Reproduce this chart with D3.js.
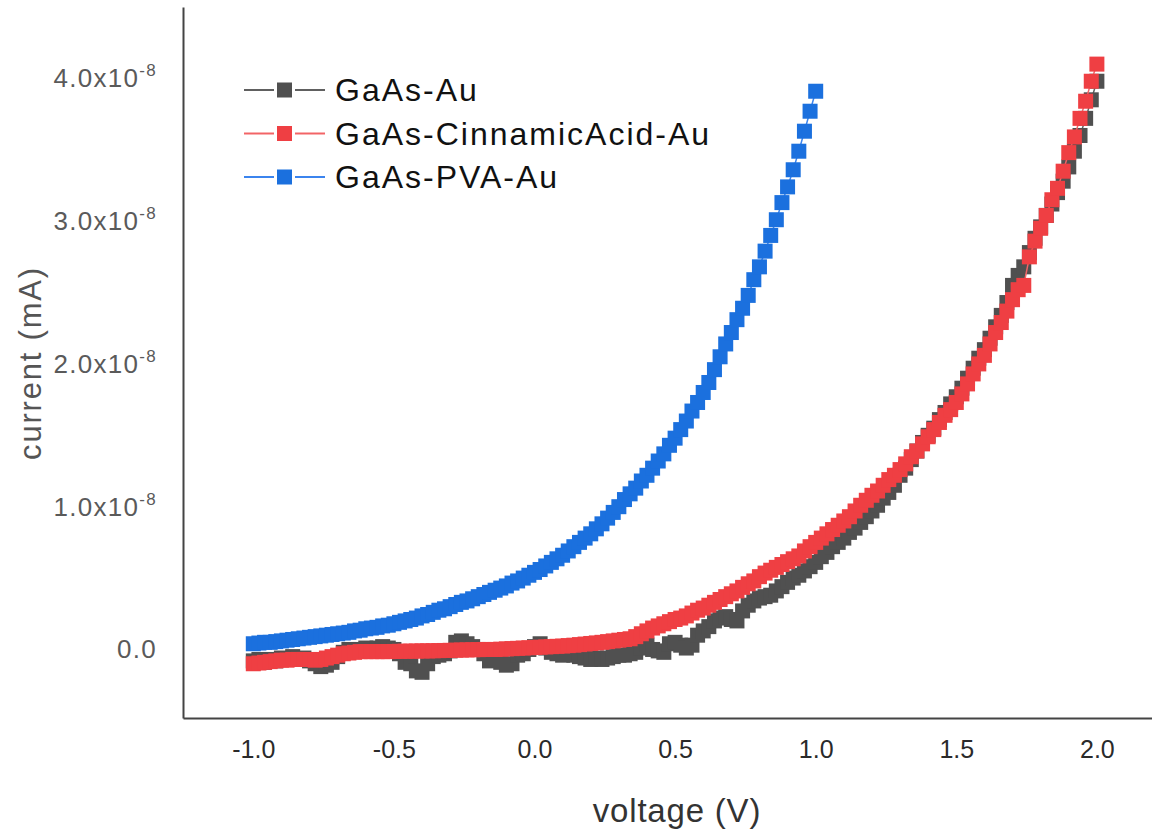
<!DOCTYPE html>
<html>
<head>
<meta charset="utf-8">
<script src="https://cdn.jsdelivr.net/npm/d3@7"></script>
<style>
  body { margin: 0; background: #fff; }
  svg { display: block; font-family: "Liberation Sans", Arial, sans-serif; }
</style>
</head>
<body>
<div id="chart"></div>
<script>
// sweep: voltage steps of 0.02 V
const vStart = -1.0, vStep = 0.02;

// current values, units of 1e-8 mA
const gaasAu = [
  -0.08,-0.07,-0.09,-0.07,-0.08,-0.06,-0.07,-0.05,-0.07,-0.06,
  -0.08,-0.10,-0.12,-0.11,-0.09,-0.05,-0.02,0.00,-0.01,0.00,
  0.01,0.00,0.01,0.02,0.01,0.00,-0.03,-0.09,-0.10,-0.15,
  -0.16,-0.10,-0.05,-0.04,-0.03,-0.01,0.05,0.06,0.04,0.02,
  0.00,-0.03,-0.08,-0.06,-0.09,-0.11,-0.10,-0.04,-0.03,0.00,
  0.02,0.04,0.01,-0.02,-0.03,-0.04,-0.03,-0.04,-0.05,-0.06,
  -0.07,-0.06,-0.07,-0.06,-0.05,-0.04,-0.04,-0.03,-0.02,0.01,
  0.03,0.00,-0.01,-0.02,0.04,0.05,0.03,0.01,0.03,0.10,
  0.13,0.16,0.20,0.22,0.23,0.21,0.20,0.27,0.31,0.34,
  0.36,0.37,0.38,0.41,0.44,0.47,0.50,0.52,0.55,0.58,
  0.61,0.65,0.68,0.72,0.75,0.78,0.82,0.85,0.89,0.93,
  0.97,1.01,1.06,1.10,1.15,1.22,1.27,1.33,1.39,1.45,
  1.50,1.55,1.61,1.66,1.72,1.77,1.83,1.90,1.97,2.04,
  2.10,2.18,2.26,2.34,2.43,2.55,2.62,2.68,2.78,2.88,
  2.96,3.04,3.12,3.20,3.28,3.38,3.49,3.60,3.72,3.85,
  3.98
];
const gaasCinnamic = [
  -0.10,-0.095,-0.09,-0.085,-0.08,-0.075,-0.075,-0.07,-0.07,-0.07,
  -0.07,-0.075,-0.07,-0.06,-0.05,-0.04,-0.03,-0.025,-0.02,-0.015,
  -0.015,-0.015,-0.015,-0.015,-0.015,-0.014,-0.013,-0.012,-0.012,-0.011,
  -0.01,-0.01,-0.009,-0.008,-0.007,-0.006,-0.005,-0.004,-0.003,-0.002,
  -0.001,0.0,0.0,0.0,0.002,0.004,0.006,0.008,0.01,0.012,
  0.014,0.016,0.018,0.02,0.022,0.024,0.027,0.03,0.034,0.038,
  0.042,0.046,0.05,0.055,0.06,0.065,0.07,0.075,0.09,0.11,
  0.13,0.15,0.165,0.18,0.195,0.21,0.22,0.235,0.255,0.275,
  0.29,0.31,0.33,0.35,0.37,0.39,0.41,0.435,0.46,0.48,
  0.51,0.535,0.555,0.575,0.595,0.615,0.635,0.655,0.69,0.72,
  0.75,0.78,0.81,0.84,0.87,0.90,0.93,0.97,1.01,1.045,
  1.08,1.11,1.15,1.19,1.22,1.26,1.30,1.35,1.39,1.44,
  1.49,1.54,1.59,1.64,1.68,1.73,1.79,1.86,1.93,2.00,
  2.06,2.14,2.22,2.29,2.37,2.45,2.52,2.55,2.75,2.86,
  2.95,3.04,3.15,3.23,3.35,3.48,3.59,3.72,3.84,3.98,
  4.10
];
const gaasPva = [
  0.04,0.045,0.05,0.05,0.055,0.06,0.065,0.07,0.075,0.08,
  0.085,0.09,0.095,0.10,0.105,0.11,0.115,0.12,0.13,0.135,
  0.145,0.15,0.155,0.165,0.17,0.18,0.19,0.20,0.21,0.22,
  0.235,0.245,0.26,0.275,0.285,0.30,0.315,0.33,0.34,0.355,
  0.37,0.385,0.40,0.415,0.43,0.445,0.465,0.48,0.50,0.52,
  0.54,0.56,0.585,0.61,0.635,0.66,0.69,0.72,0.75,0.78,
  0.81,0.845,0.88,0.92,0.96,1.00,1.05,1.09,1.13,1.18,
  1.22,1.27,1.32,1.37,1.43,1.48,1.54,1.60,1.67,1.73,
  1.80,1.87,1.96,2.05,2.14,2.22,2.31,2.39,2.48,2.59,
  2.68,2.79,2.90,3.01,3.13,3.24,3.36,3.49,3.63,3.77,
  3.91
];

const seriesNames = ["GaAs-Au", "GaAs-CinnamicAcid-Au", "GaAs-PVA-Au"];
const seriesData = [gaasAu, gaasCinnamic, gaasPva];
const markerColors = ["#505050", "#ef3f43", "#1b70de"];
const lineColors = ["#606060", "#f26466", "#3b84ee"];

const xTicks = [-1.0, -0.5, 0.0, 0.5, 1.0, 1.5, 2.0];
const yTicks = [0, 1, 2, 3, 4];

const W = 1152, H = 833;
const svg = d3.select("#chart").append("svg")
  .attr("width", W).attr("height", H);

const x = d3.scaleLinear().domain([-1.25, 2.196]).range([183, 1152]);
const y = d3.scaleLinear().domain([-0.48, 4.5]).range([718, 7]);

// axes
const gx = svg.append("g").attr("transform", "translate(0,718)")
  .call(d3.axisBottom(x).tickValues(xTicks).tickSize(0).tickSizeOuter(0).tickPadding(22)
    .tickFormat(d => d.toFixed(1)));
gx.select(".domain").attr("stroke", "#444").attr("stroke-width", 2);
gx.selectAll(".tick text").attr("font-size", "25px").attr("fill", "#2a2a2a")
  .attr("font-family", "Liberation Sans, Arial, sans-serif");

const gy = svg.append("g").attr("transform", "translate(183,0)")
  .call(d3.axisLeft(y).tickValues(yTicks).tickSize(0).tickSizeOuter(0).tickPadding(26)
    .tickFormat(() => ""));
gy.select(".domain").attr("stroke", "#444").attr("stroke-width", 2);
gy.selectAll(".tick text")
  .attr("font-size", "26px").attr("fill", "#5a5a5a")
  .attr("letter-spacing", "1.3px")
  .attr("font-family", "Liberation Sans, Arial, sans-serif")
  .each(function(d) {
    const t = d3.select(this);
    if (d === 0) { t.text("0.0"); return; }
    t.append("tspan").text(d.toFixed(1) + "x10");
    t.append("tspan").attr("dy", "-11").attr("font-size", "17px").text("-8");
  });

// axis titles
svg.append("text")
  .attr("x", 677).attr("y", 822)
  .attr("text-anchor", "middle")
  .attr("font-size", "33px").attr("fill", "#333")
  .attr("letter-spacing", "0.8px")
  .text("voltage (V)");

svg.append("text")
  .attr("transform", "translate(41,363) rotate(-90)")
  .attr("text-anchor", "middle")
  .attr("font-size", "31px").attr("fill", "#555")
  .attr("letter-spacing", "1.8px")
  .text("current (mA)");

// series
const ms = 15;
const line = d3.line().x(d => x(d.v)).y(d => y(d.i));

seriesData.forEach((vals, k) => {
  const pts = vals.map((val, j) => ({v: vStart + j * vStep, i: val}));
  const g = svg.append("g").attr("class", "series");
  g.append("path").datum(pts)
    .attr("d", line).attr("fill", "none")
    .attr("stroke", lineColors[k]).attr("stroke-width", 1.5);
  g.selectAll("rect").data(pts).enter().append("rect")
    .attr("x", d => x(d.v) - ms / 2)
    .attr("y", d => y(d.i) - ms / 2)
    .attr("width", ms).attr("height", ms)
    .attr("fill", markerColors[k]);
});

// legend
const leg = svg.append("g");
seriesNames.forEach((name, k) => {
  const cy = 90 + k * 43.5;
  leg.append("line").attr("x1", 244).attr("x2", 274).attr("y1", cy).attr("y2", cy)
    .attr("stroke", lineColors[k]).attr("stroke-width", 2);
  leg.append("line").attr("x1", 295).attr("x2", 325).attr("y1", cy).attr("y2", cy)
    .attr("stroke", lineColors[k]).attr("stroke-width", 2);
  leg.append("rect").attr("x", 277).attr("y", cy - 7.5).attr("width", 15).attr("height", 15)
    .attr("fill", markerColors[k]);
  leg.append("text").attr("x", 335).attr("y", cy + 11)
    .attr("font-size", "32px").attr("fill", "#111").attr("letter-spacing", "2px")
    .text(name);
});
</script>
</body>
</html>
